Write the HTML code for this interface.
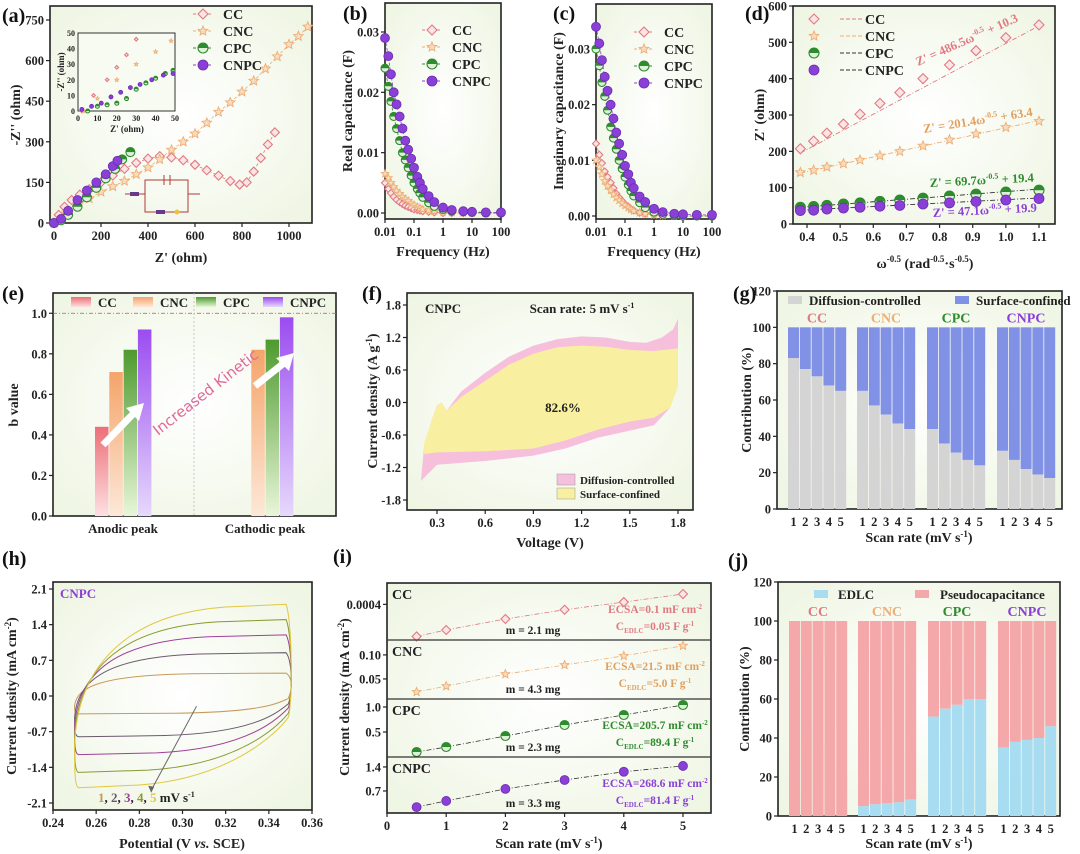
<!DOCTYPE html>
<html><head><meta charset="utf-8"><style>
html,body{margin:0;padding:0;background:#fff;}
svg{display:block;font-family:"Liberation Serif",serif;font-weight:bold;}
</style></head><body>
<svg id="fig" width="1080" height="854" viewBox="0 0 1080 854" xmlns="http://www.w3.org/2000/svg">
<defs>
<radialGradient id="bgg" cx="50%" cy="50%" r="70%"><stop offset="0" stop-color="#ffffff"/><stop offset="1" stop-color="#eef5e2"/></radialGradient>
<linearGradient id="gCC" x1="0" y1="0" x2="0" y2="1"><stop offset="0" stop-color="#ec6f78"/><stop offset="1" stop-color="#fde0e2"/></linearGradient>
<linearGradient id="gCNC" x1="0" y1="0" x2="0" y2="1"><stop offset="0" stop-color="#f4a46a"/><stop offset="1" stop-color="#fde8d8"/></linearGradient>
<linearGradient id="gCPC" x1="0" y1="0" x2="0" y2="1"><stop offset="0" stop-color="#4e9a2e"/><stop offset="1" stop-color="#e8f6d8"/></linearGradient>
<linearGradient id="gCNPC" x1="0" y1="0" x2="0" y2="1"><stop offset="0" stop-color="#9b4cf0"/><stop offset="1" stop-color="#e6d8fc"/></linearGradient>
</defs>
</svg>
<script>
// ---------- DATA ----------
const seriesNames=["CC","CNC","CPC","CNPC"];
const colors=["#e07a82","#eeae74","#2e8b2e","#8a3fd6"];
// (a) Nyquist
const aCCx=[0,20,45,75,110,150,200,250,300,350,400,450,500,550,600,650,700,750,790,820,850,880,910,940];
const aCCy=[0,30,60,85,105,125,150,175,200,222,238,247,242,232,215,195,175,155,142,150,190,240,290,335];
const aCNCx=[0,50,100,150,200,250,300,350,400,450,500,550,600,650,700,750,800,850,900,950,1000,1040,1080];
const aCNCy=[0,35,65,90,115,135,155,180,205,235,270,300,330,370,410,445,485,525,570,615,660,690,725];
const aCPCx=[0,30,60,100,140,180,220,260,290,325];
const aCPCy=[0,10,30,60,95,130,165,200,235,262];
const aCNPCx=[0,30,60,100,140,180,220,250,270];
const aCNPCy=[0,15,45,85,120,150,180,210,230];
const aTicksX=[0,200,400,600,800,1000];
const aTicksY=[0,150,300,450,600,750];
// inset
const inCCx=[2,8,15,20,25,30], inCCy=[0,10,20,28,36,46];
const inCNCx=[3,10,20,30,40,48], inCNCy=[0,8,20,30,38,45];
const inCPCx=[5,10,15,20,25,30,35,40,45,49], inCPCy=[0,3,4,5,8,14,18,21,24,26];
const inCNPCx=[2,7,12,17,22,27,32,38,44,49], inCNPCy=[1,3,5,9,12,15,17,20,23,24];
// (b),(c) frequency
const freq=[0.01,0.013,0.016,0.02,0.025,0.032,0.04,0.05,0.063,0.08,0.1,0.13,0.16,0.2,0.32,0.5,1,2,5,10,30,100];
const bCNPC=[0.029,0.026,0.023,0.020,0.018,0.016,0.014,0.012,0.0105,0.009,0.0075,0.006,0.005,0.004,0.0028,0.0018,0.0009,0.0005,0.0003,0.0002,0.0001,0.0001];
const bCPC=[0.024,0.021,0.0185,0.016,0.014,0.012,0.010,0.0088,0.0075,0.0062,0.005,0.004,0.0033,0.0026,0.0017,0.0011,0.0006,0.0003,0.0002,0.0001,0,0];
const bCNC=[0.0065,0.0058,0.005,0.0043,0.0037,0.0032,0.0027,0.0023,0.002,0.0016,0.0013,0.001,0.0008,0.0006,0.0004,0.0003,0.0002,0.0001,0,0,0,0];
const bCC=[0.005,0.004,0.0033,0.0027,0.0022,0.0018,0.0015,0.0012,0.001,0.0008,0.0006,0.0005,0.0004,0.0003,0.0002,0.0001,0,0,0,0,0,0];
const cCNPC=[0.034,0.031,0.028,0.025,0.0225,0.02,0.0175,0.015,0.013,0.011,0.009,0.0075,0.006,0.005,0.0035,0.0025,0.0013,0.0007,0.0004,0.0003,0.0002,0.0002];
const cCPC=[0.030,0.027,0.024,0.0215,0.019,0.016,0.014,0.012,0.010,0.0085,0.007,0.0056,0.0045,0.0036,0.0024,0.0015,0.0007,0.0003,0.0001,0,0,0];
const cCC=[0.013,0.011,0.0095,0.008,0.007,0.006,0.005,0.004,0.0033,0.0027,0.0021,0.0017,0.0013,0.001,0.0006,0.0004,0.0002,0.0001,0,0,0,0];
const cCNC=[0.010,0.0088,0.0075,0.0063,0.0054,0.0046,0.0039,0.0033,0.0028,0.0023,0.0019,0.0015,0.0012,0.0009,0.0006,0.0004,0.0002,0.0001,0,0,0,0];
const freqTicks=[0.01,0.1,1,10,100];
const freqTickLabels=["0.01","0.1","1","10","100"];
// (d)
const dX=[0.38,0.42,0.46,0.51,0.56,0.62,0.68,0.75,0.83,0.91,1.0,1.1];
const dCC=[207,228,250,275,302,332,362,400,438,477,513,548];
const dCNC=[142,148,157,166,176,188,200,215,232,248,266,283];
const dCPC=[46,48,51,55,58,62,66,71,77,82,88,93];
const dCNPC=[37,38,41,44,46,49,51,55,58,62,66,70];
const dSlope=[486.5,201.4,69.7,47.1];
const dIntercept=[10.3,63.4,19.4,19.9];
// (e)
const eCategories=["Anodic peak","Cathodic peak"];
const eAnodic=[0.44,0.71,0.82,0.92];
const eCathodic=[null,0.82,0.87,0.98];
// (f)
const fOuterV=[0.2,0.22,0.27,0.3,0.33,0.36,0.45,0.6,0.75,0.9,1.05,1.2,1.35,1.5,1.6,1.7,1.77,1.8,1.8,1.75,1.65,1.5,1.3,1.1,0.9,0.6,0.3,0.2];
const fOuterI=[-1.45,-0.8,-0.3,-0.05,0,-0.15,0.2,0.55,0.85,1.05,1.17,1.22,1.2,1.12,1.1,1.2,1.35,1.55,0.3,-0.1,-0.42,-0.52,-0.65,-0.85,-0.98,-1.08,-1.15,-1.45];
const fInnerV=[0.22,0.27,0.3,0.33,0.36,0.45,0.6,0.75,0.9,1.05,1.2,1.35,1.5,1.65,1.8,1.8,1.75,1.65,1.5,1.3,1.1,0.9,0.6,0.3,0.22];
const fInnerI=[-0.75,-0.3,-0.05,0,-0.15,0.1,0.4,0.7,0.9,1.02,1.05,1.03,0.97,0.95,1.0,0.3,-0.1,-0.28,-0.35,-0.5,-0.7,-0.85,-0.9,-0.92,-0.95];
// (g)
const gDiffusion=[[83,77,73,68,65],[65,57,52,47,44],[44,36,31,27,24],[32,27,22,19,17]];
// (h)
const hUpper=[0.45,0.85,1.2,1.5,1.8];
const hLower=[-0.35,-0.8,-1.15,-1.5,-1.8];
const hColors=["#c79a5a","#6b5a6e","#a0409a","#8a9a30","#e0c840"];
// (i)
const iX=[0.5,1,2,3,4,5];
const iCC=[0.00022,0.000256,0.000318,0.00037,0.000413,0.000458];
const iCNC=[0.023,0.035,0.060,0.079,0.098,0.119];
const iCPC=[0.10,0.20,0.42,0.64,0.84,1.04];
const iCNPC=[0.23,0.41,0.76,1.02,1.26,1.43];
// (j)
const jEDLC=[[0,0,0,0,0],[5,6,6.5,7,8.5],[51,55,57,60,60],[35,38,39,40,46]];

// ---------- HELPERS ----------
const svg=document.getElementById('fig');
const NS="http://www.w3.org/2000/svg";
function mk(tag,attrs,parent){const e=document.createElementNS(NS,tag);for(const k in attrs)e.setAttribute(k,attrs[k]);(parent||svg).appendChild(e);return e;}
function lin(d0,d1,r0,r1){return v=>r0+(v-d0)/(d1-d0)*(r1-r0);}
function logs(d0,d1,r0,r1){return v=>r0+(Math.log10(Math.max(v,1e-9))-Math.log10(d0))/(Math.log10(d1)-Math.log10(d0))*(r1-r0);}
function txt(x,y,s,size,opts){const o=Object.assign({x:x,y:y,'font-size':size||13,fill:'#222'},opts||{});const t=mk('text',o);t.innerHTML=s;return t;}
function frame(x0,y0,x1,y1,name){
  const r=mk('rect',{x:x0,y:y0,width:x1-x0,height:y1-y0,fill:'url(#bgg)',stroke:'#222','stroke-width':1.6});
  
  
  return r;
}
function yTicks(vals,labels,sy,x0,name){
  vals.forEach((v,i)=>{const y=sy(v);mk('line',{x1:x0,x2:x0-4,y1:y,y2:y,stroke:'#222','stroke-width':1.2});
    const t=txt(x0-6,y+4.5,labels[i],12.5,{'text-anchor':'end'});
    
    });
}
function xTicks(vals,labels,sx,y0,name){
  vals.forEach((v,i)=>{const x=sx(v);mk('line',{x1:x,x2:x,y1:y0,y2:y0+4,stroke:'#222','stroke-width':1.2});
    const t=txt(x,y0+17,labels[i],12.5,{'text-anchor':'middle'});
    
    });
}
function yTitle(x,yc,s,name){const t=txt(x,yc,s,14,{'text-anchor':'middle',transform:`rotate(-90 ${x} ${yc})`});
  
  }
function xTitle(xc,y,s,name){const t=txt(xc,y,s,14,{'text-anchor':'middle'});
  
  }
function panelLabel(x,y,s){const t=txt(x,y,s,20,{fill:'#111'});
  
  }
function marker(kind,x,y,col,r,parent){
  let e;
  if(kind===0){e=mk('path',{d:`M${x},${y-r}L${x+r},${y}L${x},${y+r}L${x-r},${y}Z`,fill:'#fbe4e4',stroke:col,'stroke-width':1.1},parent);}
  else if(kind===1){let p='';for(let k=0;k<10;k++){const a=-Math.PI/2+k*Math.PI/5,rr=k%2?r*0.45:r;p+=(k?'L':'M')+(x+rr*Math.cos(a)).toFixed(1)+','+(y+rr*Math.sin(a)).toFixed(1);}
    e=mk('path',{d:p+'Z',fill:'#f8dcc0',stroke:col,'stroke-width':0.9},parent);}
  else if(kind===2){e=mk('circle',{cx:x,cy:y,r:r,fill:'#dff0d8',stroke:col,'stroke-width':1.1},parent);
    mk('path',{d:`M${x-r},${y}A${r},${r} 0 0 1 ${x+r},${y}Z`,fill:col},parent);}
  else {e=mk('circle',{cx:x,cy:y,r:r,fill:col,stroke:'#6a2cb0','stroke-width':0.8},parent);}
  return e;
}
function series(xs,ys,sx,sy,kind,col,r,name,line){
  const g=mk('g',{});
  
  
  if(line!==false){mk('polyline',{points:xs.map((x,i)=>sx(x)+','+sy(ys[i])).join(' '),fill:'none',stroke:col,'stroke-width':0.8,'stroke-dasharray':'3,2'},g);}
  xs.forEach((x,i)=>{marker(kind,sx(x),sy(ys[i]),col,r,g);});
}
function legendMarkers(x,y,dy,size,name,withLine){
  seriesNames.forEach((n,i)=>{const g=mk('g',{});
    
    
    const yy=y+i*dy;
    if(withLine) mk('line',{x1:x-10,x2:x+10,y1:yy,y2:yy,stroke:colors[i],'stroke-width':1,'stroke-dasharray':'3,2'},g);
    marker(i,x,yy,colors[i],5,g);
    const t=txt(x+20,yy+5,n,size,{fill:'#222'},g);g.appendChild(t);});
}

// ---------- (a) ----------
panelLabel(2,22,'(a)');
frame(50,6,312,223,'plot-area-a');
{const sx=lin(0,1000,54,289),sy=lin(0,750,223,20);
 yTicks(aTicksY,aTicksY.map(String),sy,50,'a-y');xTicks(aTicksX,aTicksX.map(String),sx,223,'a-x');
 series(aCCx,aCCy,sx,sy,0,colors[0],4.5,'a-series-cc');
 series(aCNCx,aCNCy,sx,sy,1,colors[1],5,'a-series-cnc');
 series(aCPCx,aCPCy,sx,sy,2,colors[2],4.5,'a-series-cpc');
 series(aCNPCx,aCNPCy,sx,sy,3,colors[3],4.5,'a-series-cnpc');
 legendMarkers(203,14,17,14,'a-legend',true);
 const ix=lin(0,50,78,175),iy=lin(0,50,111,33);
 const ir=mk('rect',{x:78,y:33,width:97,height:78,fill:'#f8fbf2',stroke:'#333','stroke-width':1});
 
 
 [0,10,20,30,40,50].forEach(v=>{txt(ix(v),121,String(v),8,{'text-anchor':'middle'});txt(75,iy(v)+3,String(v),8,{'text-anchor':'end'});});
 txt(127,132,"Z' (ohm)",9,{'text-anchor':'middle'});
 txt(64,72,"-Z'' (ohm)",9,{'text-anchor':'middle',transform:'rotate(-90 64 72)'});
 series(inCCx,inCCy,ix,iy,0,colors[0],1.8,'a-inset-cc',false);
 series(inCNCx,inCNCy,ix,iy,1,colors[1],2,'a-inset-cnc',false);
 series(inCPCx,inCPCy,ix,iy,2,colors[2],2,'a-inset-cpc',false);
 series(inCNPCx,inCNPCy,ix,iy,3,colors[3],2,'a-inset-cnpc',false);
 const c=mk('g',{stroke:'#b03a3a','stroke-width':1,fill:'none'});
 
 
 mk('path',{d:'M125,194H145M145,180V212H188V180ZM145,180H164M170,180H188M188,194H200'},c);
 mk('path',{d:'M164,175V185M170,175V185'},c);
 mk('rect',{x:130,y:192,width:9,height:4,fill:'#6a3a8a',stroke:'none'},c);
 mk('rect',{x:156,y:210,width:9,height:4,fill:'#6a3a8a',stroke:'none'},c);
 mk('circle',{cx:177,cy:212,r:2.5,fill:'#f0c040',stroke:'none'},c);
}
yTitle(20,115,"-Z'' (ohm)",'a-y-axis-title');xTitle(181,262,"Z' (ohm)",'a-x-axis-title');

// ---------- (b) ----------
panelLabel(343,20,'(b)');
frame(385,3,501,219,'plot-area-b');
{const sx=logs(0.01,100,385,501),sy=lin(0,0.03,213,32);
 yTicks([0,0.01,0.02,0.03],["0.00","0.01","0.02","0.03"],sy,385,'b-y');xTicks(freqTicks,freqTickLabels,sx,219,'b-x');
 series(freq,bCC,sx,sy,0,colors[0],3.5,'b-series-cc');
 series(freq,bCNC,sx,sy,1,colors[1],4,'b-series-cnc');
 series(freq,bCPC,sx,sy,2,colors[2],4,'b-series-cpc');
 series(freq,bCNPC,sx,sy,3,colors[3],4.5,'b-series-cnpc');
 legendMarkers(432,30,17,14,'b-legend',true);}
yTitle(352,111,'Real capacitance (F)','b-y-axis-title');xTitle(443,256,'Frequency (Hz)','b-x-axis-title');

// ---------- (c) ----------
panelLabel(553,20,'(c)');
frame(596,4,712,219,'plot-area-c');
{const sx=logs(0.01,100,596,712),sy=lin(0,0.03,216,49);
 yTicks([0,0.01,0.02,0.03],["0.00","0.01","0.02","0.03"],sy,596,'c-y');xTicks(freqTicks,freqTickLabels,sx,219,'c-x');
 series(freq,cCC,sx,sy,0,colors[0],3.5,'c-series-cc');
 series(freq,cCNC,sx,sy,1,colors[1],4,'c-series-cnc');
 series(freq,cCPC,sx,sy,2,colors[2],4,'c-series-cpc');
 series(freq,cCNPC,sx,sy,3,colors[3],4.5,'c-series-cnpc');
 legendMarkers(644,32,17,14,'c-legend',true);}
yTitle(563,111,'Imaginary capacitance (F)','c-y-axis-title');xTitle(654,256,'Frequency (Hz)','c-x-axis-title');

// ---------- (d) ----------
panelLabel(745,20,'(d)');
frame(793,6,1055,224,'plot-area-d');
{const sx=lin(0.4,1.1,807,1039),sy=lin(0,600,224,6);
 yTicks([0,100,200,300,400,500,600],["0","100","200","300","400","500","600"],sy,793,'d-y');
 xTicks([0.4,0.5,0.6,0.7,0.8,0.9,1.0,1.1],["0.4","0.5","0.6","0.7","0.8","0.9","1.0","1.1"],sx,224,'d-x');
 [dCC,dCNC,dCPC,dCNPC].forEach((arr,k)=>{
   const l=mk('line',{x1:sx(0.38),y1:sy(dSlope[k]*0.38+dIntercept[k]),x2:sx(1.1),y2:sy(dSlope[k]*1.1+dIntercept[k]),stroke:k>1?'#333':colors[k],'stroke-width':0.9,'stroke-dasharray':'5,2,1,2'});
   
   
   series(dX,arr,sx,sy,k,colors[k],5,'d-series-'+seriesNames[k].toLowerCase(),false);});
 seriesNames.forEach((n,i)=>{const yy=19+i*17;marker(i,814,yy,colors[i],5);
   mk('line',{x1:840,x2:862,y1:yy,y2:yy,stroke:i>1?'#333':colors[i],'stroke-width':1,'stroke-dasharray':'4,2'});
   txt(865,yy+5,n,14);});
 const eq=[["Z' = 486.5ω<tspan dy='-5' font-size='8'>-0.5</tspan><tspan dy='5'> + 10.3</tspan>",918,66,-24,colors[0]],
   ["Z' = 201.4ω<tspan dy='-5' font-size='8'>-0.5</tspan><tspan dy='5'> + 63.4</tspan>",924,133,-9,'#e0a060'],
   ["Z' = 69.7ω<tspan dy='-5' font-size='8'>-0.5</tspan><tspan dy='5'> + 19.4</tspan>",930,187,-3,colors[2]],
   ["Z' = 47.1ω<tspan dy='-5' font-size='8'>-0.5</tspan><tspan dy='5'> + 19.9</tspan>",933,217,-3,colors[3]]];
 eq.forEach((q,i)=>{const t=txt(q[1],q[2],q[0],12.5,{fill:q[4],transform:`rotate(${q[3]} ${q[1]} ${q[2]})`});
   
   });}
yTitle(764,115,"Z' (ohm)",'d-y-axis-title');
xTitle(925,268,"ω<tspan dy='-6' font-size='9'>-0.5</tspan><tspan dy='6'> (rad</tspan><tspan dy='-6' font-size='9'>-0.5</tspan><tspan dy='6'>·s</tspan><tspan dy='-6' font-size='9'>-0.5</tspan><tspan dy='6'>)</tspan>",'d-x-axis-title');

// ---------- (e) ----------
panelLabel(2,300,'(e)');
frame(53,293,336,516,'plot-area-e');
{const sy=lin(0,1.1,516,293);
 yTicks([0,0.2,0.4,0.6,0.8,1.0],["0.0","0.2","0.4","0.6","0.8","1.0"],sy,53,'e-y');
 mk('line',{x1:53,x2:336,y1:sy(1),y2:sy(1),stroke:'#c05060','stroke-width':0.8,'stroke-dasharray':'4,2,1,2'});
 mk('line',{x1:194,x2:194,y1:293,y2:516,stroke:'#bbb','stroke-width':0.8,'stroke-dasharray':'2,2'});
 const grads=['url(#gCC)','url(#gCNC)','url(#gCPC)','url(#gCNPC)'];
 const groupX=[95,237];
 [eAnodic,eCathodic].forEach((vals,g)=>{vals.forEach((v,i)=>{if(v==null)return;
   const r=mk('rect',{x:groupX[g]+i*14.3,y:sy(v),width:13.5,height:516-sy(v),fill:grads[i]});
   
   });});
 seriesNames.forEach((n,i)=>{const lx=[71,133,196,263][i];mk('rect',{x:lx,y:297,width:20,height:10,fill:grads[i]});txt(lx+27,307,n,13);});
 [[103,445,140,407],[255,386,290,357]].forEach(a=>{const ar=mk('g',{});
   
   
   mk('line',{x1:a[0],y1:a[1],x2:a[2]-6,y2:a[3]+6,stroke:'#fff','stroke-width':7},ar);
   mk('path',{d:`M${a[2]+4},${a[3]-4}L${a[2]-14},${a[3]+1}L${a[2]-1},${a[3]+14}Z`,fill:'#fff'},ar);});
 const kt=txt(158,436,'Increased Kinetic',15,{fill:'#e06a9a','font-family':'"DejaVu Sans",sans-serif','font-weight':'normal',transform:'rotate(-38 158 436)'});
 
 
 txt(123,533,'Anodic peak',13,{'text-anchor':'middle'});txt(265,533,'Cathodic peak',13,{'text-anchor':'middle'});}
yTitle(18,405,'b value','e-y-axis-title');

// ---------- (f) ----------
panelLabel(362,300,'(f)');
frame(407,293,693,510,'plot-area-f');
{const sx=lin(0.3,1.8,437,678),sy=lin(-1.8,1.8,500,305);
 yTicks([-1.8,-1.2,-0.6,0,0.6,1.2,1.8],["-1.8","-1.2","-0.6","0.0","0.6","1.2","1.8"],sy,407,'f-y');
 xTicks([0.3,0.6,0.9,1.2,1.5,1.8],["0.3","0.6","0.9","1.2","1.5","1.8"],sx,510,'f-x');
 const po=mk('polygon',{points:fOuterV.map((v,i)=>sx(v)+','+sy(fOuterI[i])).join(' '),fill:'#f6c0dc'});
 
 
 const pi=mk('polygon',{points:fInnerV.map((v,i)=>sx(v)+','+sy(fInnerI[i])).join(' '),fill:'#f8f0a0'});
 
 
 txt(425,313,'CNPC',13);txt(582,313,"Scan rate: 5 mV s<tspan dy='-5' font-size='8'>-1</tspan>",13,{'text-anchor':'middle'});
 txt(563,412,'82.6%',13,{'text-anchor':'middle'});
 mk('rect',{x:557,y:474,width:18,height:11,fill:'#f6c0dc',stroke:'#999','stroke-width':0.5});txt(580,484,'Diffusion-controlled',11);
 mk('rect',{x:557,y:488,width:18,height:11,fill:'#f8f0a0',stroke:'#999','stroke-width':0.5});txt(580,498,'Surface-confined',11);}
yTitle(377,401,"Current density (A g<tspan dy='-5' font-size='9'>-1</tspan><tspan dy='5'>)</tspan>",'f-y-axis-title');
xTitle(550,547,'Voltage (V)','f-x-axis-title');

// ---------- (g) & (j) stacked ----------
function stacked(x0,y0,x1,y1,bottomVals,botCol,topCol,pfx){
  frame(x0,y0,x1,y1,'plot-area-'+pfx);
  const sy=lin(0,120,y1,y0);
  yTicks([0,20,40,60,80,100,120],["0","20","40","60","80","100","120"],sy,x0,pfx+'-y');
  const gs=[x0+11,x0+80,x0+150,x0+220];
  bottomVals.forEach((arr,g)=>{arr.forEach((v,i)=>{const bx=gs[g]+i*11.8;
    const t=mk('rect',{x:bx,y:sy(100),width:11,height:sy(v)-sy(100),fill:topCol});
    
    
    const b=mk('rect',{x:bx,y:sy(v),width:11,height:y1-sy(v),fill:botCol});
    
    
    txt(bx+5.5,y1+17,String(i+1),12.5,{'text-anchor':'middle'});});
    txt(gs[g]+29,sy(100)-5,seriesNames[g],14,{'text-anchor':'middle',fill:colors[g]});});
  return sy;
}
panelLabel(733,300,'(g)');
stacked(777,291,1062,509,gDiffusion,'#d4d4d4','#8191e6','g');
mk('rect',{x:788,y:296,width:14,height:8,fill:'#d4d4d4'});txt(809,305,'Diffusion-controlled',13);
mk('rect',{x:955,y:296,width:14,height:8,fill:'#8191e6'});txt(976,305,'Surface-confined',13);
yTitle(751,400,'Contribution (%)','g-y-axis-title');
xTitle(919,542,"Scan rate (mV s<tspan dy='-5' font-size='9'>-1</tspan><tspan dy='5'>)</tspan>",'g-x-axis-title');

panelLabel(728,567,'(j)');
stacked(778,582,1060,816,jEDLC,'#a8dcf0','#f4a8aa','j');
mk('rect',{x:814,y:590,width:14,height:8,fill:'#a8dcf0'});txt(838,599,'EDLC',13);
mk('rect',{x:915,y:590,width:14,height:8,fill:'#f4a8aa'});txt(940,599,'Pseudocapacitance',13);
yTitle(749,699,'Contribution (%)','j-y-axis-title');
xTitle(919,848,"Scan rate (mV s<tspan dy='-5' font-size='9'>-1</tspan><tspan dy='5'>)</tspan>",'j-x-axis-title');

// ---------- (h) ----------
panelLabel(2,565,'(h)');
frame(53,582,312,810,'plot-area-h');
{const sx=lin(0.24,0.36,53,312),sy=lin(-2.1,2.1,803,589);
 yTicks([-2.1,-1.4,-0.7,0,0.7,1.4,2.1],["-2.1","-1.4","-0.7","0.0","0.7","1.4","2.1"],sy,53,'h-y');
 xTicks([0.24,0.26,0.28,0.30,0.32,0.34,0.36],["0.24","0.26","0.28","0.30","0.32","0.34","0.36"],sx,810,'h-x');
 hUpper.forEach((u,k)=>{const l=hLower[k];const s=0.004+k*0.004;const re=(u+l)*0.5-0.1-k*0.08;
   const d=`M${sx(0.25)},${sy(l*0.55)} C${sx(0.251)},${sy(u*0.4)} ${sx(0.258+s)},${sy(u*0.9)} ${sx(0.30+s)},${sy(u*0.97)} L${sx(0.348)},${sy(u)} C${sx(0.351)},${sy(u*0.8)} ${sx(0.351)},${sy(re+0.2)} ${sx(0.349)},${sy(re)} C${sx(0.344)},${sy(l*0.4)} ${sx(0.342-s)},${sy(l*0.9)} ${sx(0.30-s)},${sy(l*0.97)} L${sx(0.252)},${sy(l)} C${sx(0.25)},${sy(l)} ${sx(0.25)},${sy(l*0.8)} ${sx(0.25)},${sy(l*0.55)}Z`;
   const p=mk('path',{d:d,fill:'none',stroke:hColors[k],'stroke-width':1});
   
   });
 mk('line',{x1:sx(0.3065),y1:sy(-0.2),x2:sx(0.2855),y2:sy(-1.85),stroke:'#666','stroke-width':1});
 mk('path',{d:`M${sx(0.2855)},${sy(-1.9)}l-3,-7l6,1z`,fill:'#666'});
 txt(60,598,'CNPC',13,{fill:'#8a3fd6'});
 txt(98,802,"<tspan fill='#c79a5a'>1</tspan>, <tspan fill='#6b5a6e'>2</tspan>, <tspan fill='#a0409a'>3</tspan>, <tspan fill='#8a9a30'>4</tspan>, <tspan fill='#e0c840'>5</tspan> mV s<tspan dy='-5' font-size='8'>-1</tspan>",13);}
yTitle(16,696,"Current density (mA cm<tspan dy='-5' font-size='9'>-2</tspan><tspan dy='5'>)</tspan>",'h-y-axis-title');
xTitle(182,848,"Potential (V <tspan font-style='italic'>vs.</tspan> SCE)",'h-x-axis-title');

// ---------- (i) ----------
panelLabel(333,563,'(i)');
frame(387,583,711,813,'plot-area-i');
{const sx=lin(0,5,387,683);
 xTicks([0,1,2,3,4,5],["0","1","2","3","4","5"],sx,813,'i-x');
 const subs=[
  {top:583,bot:640,d0:0.0002,d1:0.00052,vals:iCC,tv:[0.0004],tl:["0.0004"],m:'m = 2.1 mg',e1:"ECSA=0.1 mF cm<tspan dy='-4' font-size='7'>-2</tspan>",e2:"C<tspan dy='3' font-size='7'>EDLC</tspan><tspan dy='-3'>=0.05 F g</tspan><tspan dy='-4' font-size='7'>-1</tspan>"},
  {top:640,bot:699,d0:0.0083,d1:0.131,vals:iCNC,tv:[0.05,0.10],tl:["0.05","0.10"],m:'m = 4.3 mg',e1:"ECSA=21.5 mF cm<tspan dy='-4' font-size='7'>-2</tspan>",e2:"C<tspan dy='3' font-size='7'>EDLC</tspan><tspan dy='-3'>=5.0 F g</tspan><tspan dy='-4' font-size='7'>-1</tspan>"},
  {top:699,bot:757,d0:0,d1:1.16,vals:iCPC,tv:[0.5,1.0],tl:["0.5","1.0"],m:'m = 2.3 mg',e1:"ECSA=205.7 mF cm<tspan dy='-4' font-size='7'>-2</tspan>",e2:"C<tspan dy='3' font-size='7'>EDLC</tspan><tspan dy='-3'>=89.4 F g</tspan><tspan dy='-4' font-size='7'>-1</tspan>"},
  {top:757,bot:813,d0:0.058,d1:1.69,vals:iCNPC,tv:[0.7,1.4],tl:["0.7","1.4"],m:'m = 3.3 mg',e1:"ECSA=268.6 mF cm<tspan dy='-4' font-size='7'>-2</tspan>",e2:"C<tspan dy='3' font-size='7'>EDLC</tspan><tspan dy='-3'>=81.4 F g</tspan><tspan dy='-4' font-size='7'>-1</tspan>"}];
 subs.forEach((s,k)=>{const sy=lin(s.d0,s.d1,s.bot,s.top);
   if(k>0){mk('line',{x1:387,x2:711,y1:s.top,y2:s.top,stroke:'#333','stroke-width':1.2});}
   yTicks(s.tv,s.tl,sy,387,'i-y-'+seriesNames[k].toLowerCase());
   mk('polyline',{points:iX.map((x,i)=>sx(x)+','+sy(s.vals[i])).join(' '),fill:'none',stroke:k>1?'#333':colors[k],'stroke-width':0.8,'stroke-dasharray':'5,2,1,2'});
   series(iX,s.vals,sx,sy,k,colors[k],4.5,'i-series-'+seriesNames[k].toLowerCase(),false);
   txt(392,s.top+16,seriesNames[k],14);
   txt(533,s.bot-6,s.m,11.5,{'text-anchor':'middle'});
   const ec=k===1?'#e0a060':colors[k];
   txt(655,s.top+30,s.e1,11.5,{'text-anchor':'middle',fill:ec});
   txt(655,s.top+47,s.e2,11.5,{'text-anchor':'middle',fill:ec});});}
yTitle(349,697,"Current density (mA cm<tspan dy='-5' font-size='9'>-2</tspan><tspan dy='5'>)</tspan>",'i-y-axis-title');
xTitle(549,848,"Scan rate (mV s<tspan dy='-5' font-size='9'>-1</tspan><tspan dy='5'>)</tspan>",'i-x-axis-title');
</script>
</body></html>
